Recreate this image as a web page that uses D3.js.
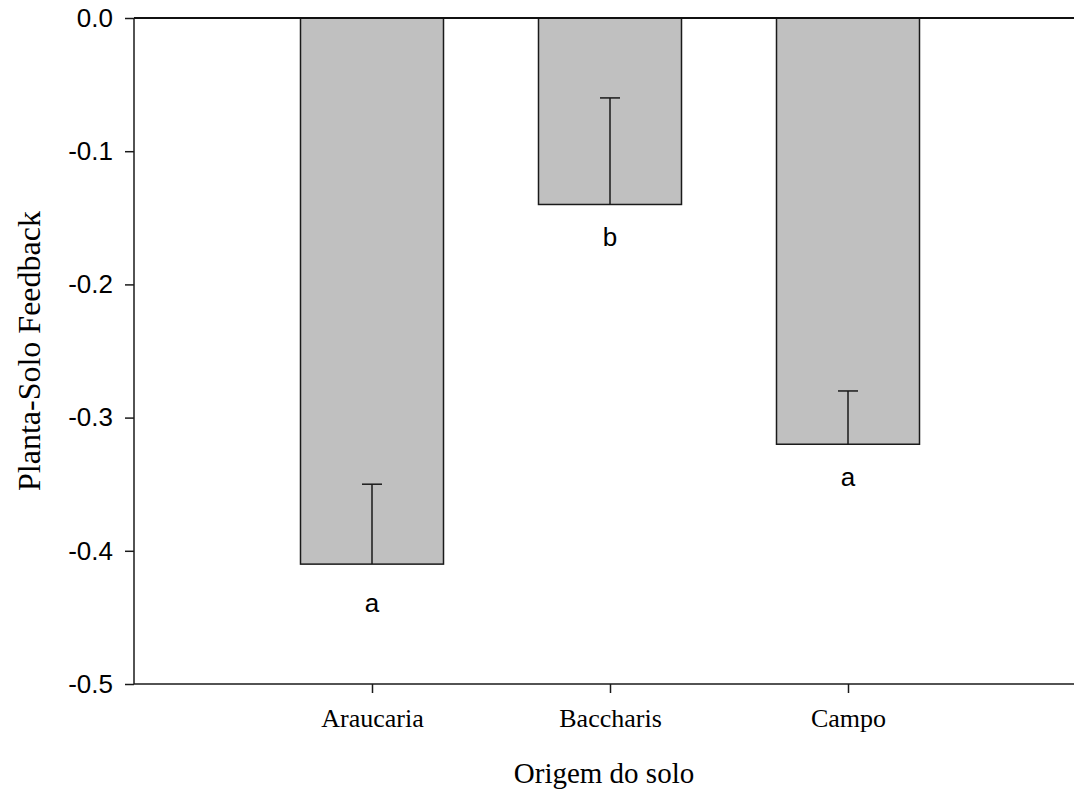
<!DOCTYPE html>
<html>
<head>
<meta charset="utf-8">
<script src="https://cdn.jsdelivr.net/npm/d3@7"></script>
<style>
  html, body { margin: 0; padding: 0; background: #fff; }
  svg { display: block; }
</style>
</head>
<body>
<svg id="chart" width="1074" height="796"></svg>
<script>
// Soil origin categories and mean plant-soil feedback
const categories = ["Araucaria", "Baccharis", "Campo"];
const means = [-0.41, -0.14, -0.32];
// Upper end of each error bar
const errorTops = [-0.35, -0.06, -0.28];
// Significance letters and the value where each letter's baseline sits
const letters = ["a", "b", "a"];
const letterY = [-0.446, -0.171, -0.351];
const yTicks = [0.0, -0.1, -0.2, -0.3, -0.4, -0.5];

const svg = d3.select("#chart");
const plotLeft = 134, plotTop = 18, plotBottom = 684, plotRight = 1074;

// Categories sit at 1, 2, 3 on a 0..4 position scale
const x = d3.scaleLinear().domain([0, 4]).range([plotLeft, 1086]);
const y = d3.scaleLinear().domain([-0.5, 0]).range([plotBottom, plotTop]);
const barW = 143;

const sans = "'Liberation Sans', Arial, sans-serif";
const serif = "'Liberation Serif', 'Times New Roman', serif";

// Bars hang down from zero
svg.append("g").selectAll("rect")
  .data(means)
  .join("rect")
  .attr("x", (d, i) => x(i + 1) - barW / 2)
  .attr("y", y(0))
  .attr("width", barW)
  .attr("height", d => y(d) - y(0))
  .attr("fill", "#c0c0c0")
  .attr("stroke", "#1a1a1a")
  .attr("stroke-width", 1.5);

// Error bars
const eb = svg.append("g").attr("stroke", "#1a1a1a").attr("stroke-width", 1.5);
eb.selectAll("line.v")
  .data(means)
  .join("line")
  .attr("class", "v")
  .attr("x1", (d, i) => x(i + 1)).attr("x2", (d, i) => x(i + 1))
  .attr("y1", d => y(d))
  .attr("y2", (d, i) => y(errorTops[i]));
eb.selectAll("line.cap")
  .data(errorTops)
  .join("line")
  .attr("class", "cap")
  .attr("x1", (d, i) => x(i + 1) - 10).attr("x2", (d, i) => x(i + 1) + 10)
  .attr("y1", d => y(d)).attr("y2", d => y(d));

// Significance letters
svg.append("g").selectAll("text")
  .data(letters)
  .join("text")
  .attr("x", (d, i) => x(i + 1))
  .attr("y", (d, i) => y(letterY[i]))
  .attr("text-anchor", "middle")
  .attr("font-family", sans)
  .attr("font-size", 26)
  .attr("fill", "#000")
  .text(d => d);

// Y axis
const yAxis = d3.axisLeft(y)
  .tickValues(yTicks)
  .tickSize(9)
  .tickPadding(12);
const gy = svg.append("g").attr("transform", `translate(${plotLeft},0)`).call(yAxis);
gy.select(".domain").attr("stroke", "#1a1a1a").attr("stroke-width", 1.5)
  .attr("d", `M0,${plotTop}V${plotBottom}`);
gy.selectAll(".tick line").attr("stroke", "#1a1a1a").attr("stroke-width", 1.5);
gy.selectAll(".tick text")
  .attr("font-family", sans).attr("font-size", 26).attr("fill", "#000")
  .text(d => d === 0 ? "0.0" : d.toFixed(1));

// X axis
const xAxis = d3.axisBottom(x)
  .tickValues([1, 2, 3])
  .tickFormat(i => categories[i - 1])
  .tickSize(9)
  .tickPadding(16);
const gx = svg.append("g").attr("transform", `translate(0,${plotBottom})`).call(xAxis);
gx.select(".domain").attr("stroke", "#1a1a1a").attr("stroke-width", 1.5)
  .attr("d", `M${plotLeft},0H${plotRight}`);
gx.selectAll(".tick line").attr("stroke", "#1a1a1a").attr("stroke-width", 1.5);
gx.selectAll(".tick text")
  .attr("font-family", serif).attr("font-size", 26).attr("fill", "#000");

// Zero line along the top
svg.append("line")
  .attr("x1", plotLeft).attr("x2", plotRight)
  .attr("y1", y(0)).attr("y2", y(0))
  .attr("stroke", "#111").attr("stroke-width", 2.2);

// Axis titles
svg.append("text")
  .attr("x", 604).attr("y", 783)
  .attr("text-anchor", "middle")
  .attr("font-family", serif).attr("font-size", 29)
  .text("Origem do solo");

svg.append("text")
  .attr("transform", `translate(40,351) rotate(-90)`)
  .attr("text-anchor", "middle")
  .attr("font-family", serif).attr("font-size", 32)
  .text("Planta-Solo Feedback");
</script>
</body>
</html>
